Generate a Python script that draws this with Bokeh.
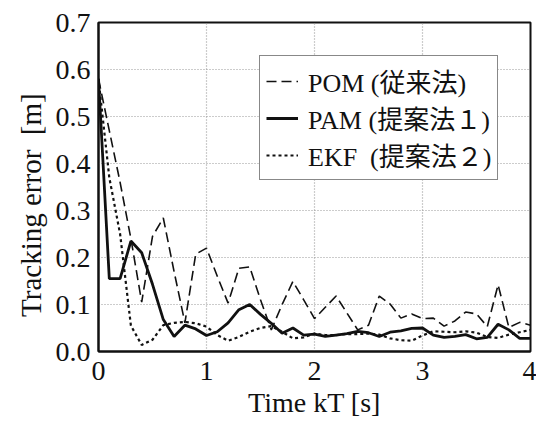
from bokeh.plotting import figure
from bokeh.models import Legend, LegendItem, FixedTicker, Range1d, PrintfTickFormatter
from bokeh.embed import file_html
from bokeh.resources import INLINE

t = [round(0.1 * i, 1) for i in range(41)]
pom = [0.58, 0.47, 0.36, 0.24, 0.105, 0.245, 0.284, 0.17, 0.061, 0.207,
       0.22, 0.16, 0.103, 0.177, 0.18, 0.11, 0.046, 0.10, 0.149, 0.11,
       0.07, 0.094, 0.118, 0.082, 0.046, 0.056, 0.118, 0.101, 0.071, 0.08,
       0.07, 0.071, 0.054, 0.065, 0.084, 0.08, 0.053, 0.142, 0.051, 0.062,
       0.056]
pam = [0.58, 0.155, 0.155, 0.235, 0.21, 0.143, 0.068, 0.032, 0.056, 0.048,
       0.034, 0.042, 0.061, 0.089, 0.10, 0.079, 0.06, 0.039, 0.05, 0.035,
       0.037, 0.032, 0.035, 0.038, 0.043, 0.040, 0.032, 0.041, 0.044, 0.049,
       0.050, 0.035, 0.030, 0.032, 0.036, 0.027, 0.030, 0.058, 0.046, 0.028,
       0.028]
ekf = [0.58, 0.37, 0.25, 0.055, 0.014, 0.025, 0.056, 0.061, 0.063, 0.06,
       0.053, 0.035, 0.023, 0.031, 0.042, 0.05, 0.054, 0.042, 0.028, 0.03,
       0.038, 0.035, 0.035, 0.037, 0.037, 0.038, 0.036, 0.028, 0.024, 0.023,
       0.034, 0.043, 0.042, 0.041, 0.043, 0.04, 0.031, 0.029, 0.036, 0.041,
       0.046]
labels = ["POM (従来法)", "PAM (提案法１)", "EKF\u00a0 (提案法２)"]
x_ticks = [0, 1, 2, 3, 4]
y_ticks = [0.0, 0.1, 0.2, 0.3, 0.4, 0.5, 0.6, 0.7]

FONT = "'Liberation Serif', 'Noto Sans CJK JP', serif"

p = figure(width=536, height=420, output_backend="svg", toolbar_location=None,
           x_range=Range1d(0, 4), y_range=Range1d(0, 0.7),
           min_border_left=98, min_border_right=6, min_border_top=22, min_border_bottom=65)
p.background_fill_color = "white"
p.border_fill_color = "white"
p.outline_line_color = "#111111"
p.outline_line_width = 2

r1 = p.line(t, pom, line_color="#111111", line_width=1.6, line_dash="10 5")
r2 = p.line(t, pam, line_color="#111111", line_width=2.8)
r3 = p.line(t, ekf, line_color="#111111", line_width=2.2, line_dash="3 3")

p.xaxis.ticker = FixedTicker(ticks=x_ticks)
p.yaxis.ticker = FixedTicker(ticks=y_ticks)
p.yaxis.formatter = PrintfTickFormatter(format="%.1f")
for ax in (p.xaxis, p.yaxis):
    ax.major_tick_out = 0
    ax.major_tick_in = 0
    ax.minor_tick_out = 0
    ax.minor_tick_in = 0
    ax.axis_line_color = "#111111"
    ax.axis_line_width = 2
    ax.major_label_text_font = FONT
    ax.major_label_text_font_size = "28px"
    ax.major_label_text_color = "#111111"
    ax.axis_label_text_font = FONT
    ax.axis_label_text_font_style = "normal"
    ax.axis_label_text_color = "#111111"
p.xaxis.axis_label_text_font_size = "28px"
p.yaxis.axis_label_text_font_size = "29px"
p.xaxis.axis_label = "Time kT [s]"
p.yaxis.axis_label = "Tracking error\u00a0\u00a0[m]" + "\u00a0" * 5
p.xaxis.major_label_standoff = 10
p.yaxis.major_label_standoff = 8
p.xaxis.axis_label_standoff = 4
p.yaxis.axis_label_standoff = 6

p.xgrid.ticker = FixedTicker(ticks=x_ticks)
p.ygrid.ticker = FixedTicker(ticks=y_ticks)
for g in (p.xgrid, p.ygrid):
    g.grid_line_color = "#999999"
    g.grid_line_dash = "1 2"
    g.grid_line_width = 1.2

legend = Legend(items=[LegendItem(label=labels[0], renderers=[r1]),
                       LegendItem(label=labels[1], renderers=[r2]),
                       LegendItem(label=labels[2], renderers=[r3])],
                location=(161, 171))
legend.label_text_font = FONT
legend.label_text_font_size = "26px"
legend.label_text_color = "#111111"
legend.glyph_width = 32
legend.glyph_height = 20
legend.label_height = 20
legend.label_standoff = 10
legend.spacing = 0
legend.padding = 6
legend.border_line_color = "#111111"
legend.border_line_width = 1.5
legend.background_fill_alpha = 1
p.add_layout(legend)

open("out.html", "w").write(file_html(p, INLINE))
